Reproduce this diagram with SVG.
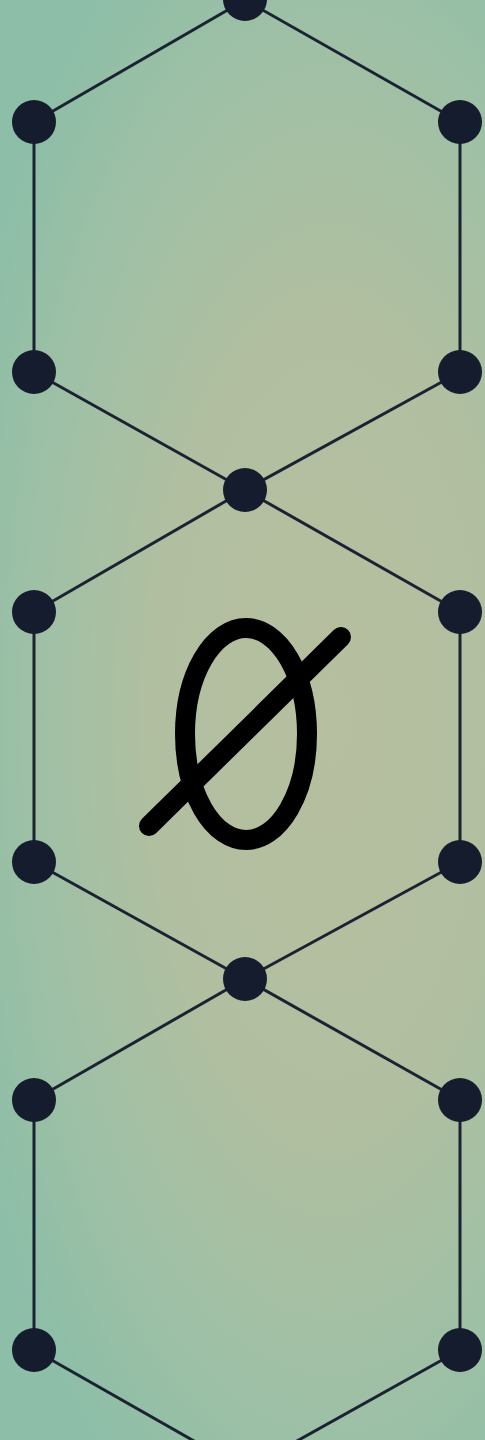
<svg xmlns="http://www.w3.org/2000/svg" width="485" height="1440" viewBox="0 0 485 1440">
<defs>
<radialGradient id="bg" gradientUnits="userSpaceOnUse" cx="330" cy="720" r="390" gradientTransform="translate(330 720) scale(1 2.3) translate(-330 -720)">
<stop offset="0" stop-color="#b6bf9f"/>
<stop offset="0.45" stop-color="#b1bfa0"/>
<stop offset="0.8" stop-color="#9cc0a6"/>
<stop offset="1" stop-color="#8dbea7"/>
</radialGradient>
<style>
.edge{stroke:#1b2232;stroke-width:3;fill:none;stroke-linecap:round}
.node{fill:#151c2d}
.sym{stroke:#000;stroke-width:20;fill:none;stroke-linecap:round}
</style>
</defs>
<rect width="485" height="1440" fill="url(#bg)"/>
<g id="connectors">
<line class="edge" x1="245" y1="0" x2="34" y2="122"/>
<line class="edge" x1="245" y1="0" x2="460" y2="122"/>
<line class="edge" x1="34" y1="122" x2="34" y2="372"/>
<line class="edge" x1="460" y1="122" x2="460" y2="372"/>
<line class="edge" x1="34" y1="372" x2="245" y2="490"/>
<line class="edge" x1="460" y1="372" x2="245" y2="490"/>
<line class="edge" x1="245" y1="490" x2="34" y2="612"/>
<line class="edge" x1="245" y1="490" x2="460" y2="612"/>
<line class="edge" x1="34" y1="612" x2="34" y2="862"/>
<line class="edge" x1="460" y1="612" x2="460" y2="862"/>
<line class="edge" x1="34" y1="862" x2="245" y2="979"/>
<line class="edge" x1="460" y1="862" x2="245" y2="979"/>
<line class="edge" x1="245" y1="979" x2="34" y2="1100"/>
<line class="edge" x1="245" y1="979" x2="460" y2="1100"/>
<line class="edge" x1="34" y1="1100" x2="34" y2="1350"/>
<line class="edge" x1="460" y1="1100" x2="460" y2="1350"/>
<line class="edge" x1="34" y1="1350" x2="245" y2="1470"/>
<line class="edge" x1="460" y1="1350" x2="245" y2="1470"/>
</g>
<g id="n-top"><circle class="node" cx="245" cy="-1" r="22"/></g>
<g id="n1"><circle class="node" cx="34" cy="122" r="22"/></g>
<g id="n2"><circle class="node" cx="460" cy="122" r="22"/></g>
<g id="n3"><circle class="node" cx="34" cy="372" r="22"/></g>
<g id="n4"><circle class="node" cx="460" cy="372" r="22"/></g>
<g id="n5"><circle class="node" cx="245" cy="490" r="22"/></g>
<g id="n6"><circle class="node" cx="34" cy="612" r="22"/></g>
<g id="n7"><circle class="node" cx="460" cy="612" r="22"/></g>
<g id="n8"><circle class="node" cx="34" cy="862" r="22"/></g>
<g id="n9"><circle class="node" cx="460" cy="862" r="22"/></g>
<g id="n10"><circle class="node" cx="245" cy="979" r="22"/></g>
<g id="n11"><circle class="node" cx="34" cy="1100" r="22"/></g>
<g id="n12"><circle class="node" cx="460" cy="1100" r="22"/></g>
<g id="n13"><circle class="node" cx="34" cy="1350" r="22"/></g>
<g id="n14"><circle class="node" cx="460" cy="1350" r="22"/></g>
<g id="empty-set-symbol">
<ellipse class="sym" cx="246" cy="734" rx="61" ry="106"/>
<line class="sym" x1="149" y1="826" x2="341" y2="637"/>
</g>
</svg>
